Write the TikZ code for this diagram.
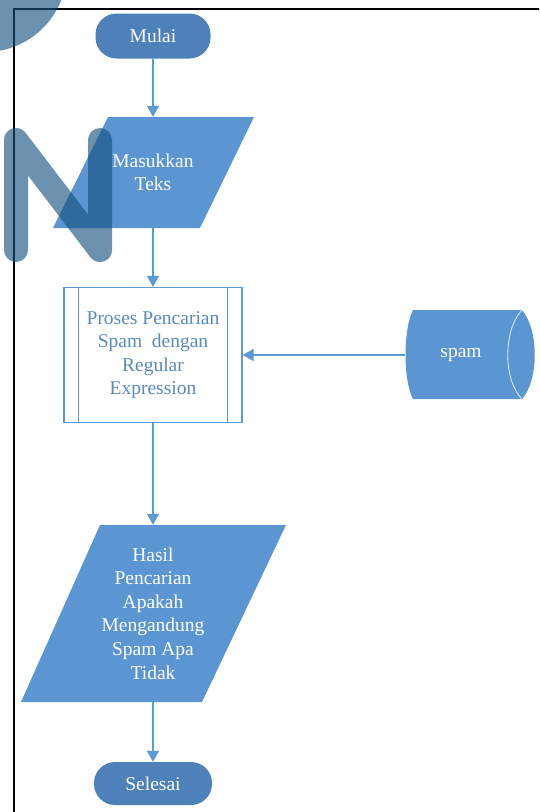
\documentclass[tikz,border=0pt]{standalone}
\usepackage{fontspec}
\setmainfont{Liberation Serif}
\usetikzlibrary{arrows.meta,calc}
\definecolor{termblue}{HTML}{4E80BA}
\definecolor{parablue}{HTML}{5B96D3}
\definecolor{lineblue}{HTML}{5B9BD5}
\definecolor{textblue}{HTML}{5A8AC0}
\definecolor{wmblue}{HTML}{165181}
\definecolor{cylline}{HTML}{D4E6F6}
\begin{document}
\begin{tikzpicture}[x=1pt,y=-1pt,
  lbl/.style={font=\fontsize{19.5}{23.5}\selectfont, align=center, inner sep=0pt},
  term/.style={lbl, shape=rectangle, fill=termblue, text=white, rounded corners=21pt},
  iotext/.style={lbl, text=white},
  procbox/.style={lbl, shape=rectangle, draw=lineblue, line width=1.2pt, fill=white, text=textblue},
  arr/.style={draw=lineblue, line width=1.3pt, -{Triangle[length=11pt,width=12pt]}},
  iofill/.style={fill=parablue},
  wm/.style={wmblue, opacity=0.63}]
\useasboundingbox (0,0) rectangle (539,812);
\clip (0,0) rectangle (539,812);
\fill[white] (0,0) rectangle (539,812);

% frame
\draw[black, line width=2pt] (14,813) -- (14,9) -- (540,9);

% shapes drawn directly
\fill[parablue] (108,117) -- (254,117) -- (200,228) -- (53,228) -- cycle;
\fill[parablue] (100,525) -- (286,525) -- (202,702) -- (21,702) -- cycle;
\fill[parablue] (413,310) -- (522,310) .. controls (539,330) and (539,380) .. (522,399)
   -- (413,399) .. controls (403,380) and (403,330) .. (413,310) -- cycle;
\draw[cylline, line width=0.9pt] (522,310) .. controls (503,330) and (503,380) .. (522,399);

% nodes
\node[term, minimum width=115pt, minimum height=45pt] (mulai) at (153,36) {Mulai};
\node[iotext, minimum width=100pt, minimum height=111pt] (masuk) at (153,172.5) {Masukkan\\Teks};
\node[procbox, minimum width=178pt, minimum height=135pt] (proses) at (153,355)
  {Proses Pencarian\\Spam\ \ dengan\\Regular\\Expression};
\draw[lineblue, line width=1.2pt] ([xshift=15pt]proses.north west) -- ([xshift=15pt]proses.south west);
\draw[lineblue, line width=1.2pt] ([xshift=-15pt]proses.north east) -- ([xshift=-15pt]proses.south east);
\node[iotext, minimum width=112pt, minimum height=89pt] (spam) at (461,355) {spam};
\node[iotext, font=\fontsize{19.5}{23.6}\selectfont, minimum width=120pt, minimum height=177pt] (hasil) at (153,613.5)
  {Hasil\\Pencarian\\Apakah\\Mengandung\\Spam Apa\\Tidak};
\node[term, minimum width=118pt, minimum height=43pt] (selesai) at (153,783.5) {Selesai};

% connectors
\draw[arr] (mulai.south) -- (masuk.north);
\draw[arr] (masuk.south) -- (proses.north);
\draw[arr] (spam.west) -- (proses.east);
\draw[arr] (proses.south) -- (hasil.north);
\draw[arr] (hasil.south) -- (selesai.north);

% watermark
\fill[wm] (-15,-30) circle[radius=82pt];
\draw[wm, line width=24pt, line cap=round, line join=round] (16,250) -- (16,140) -- (100,250) -- (100,140);
\end{tikzpicture}
\end{document}
